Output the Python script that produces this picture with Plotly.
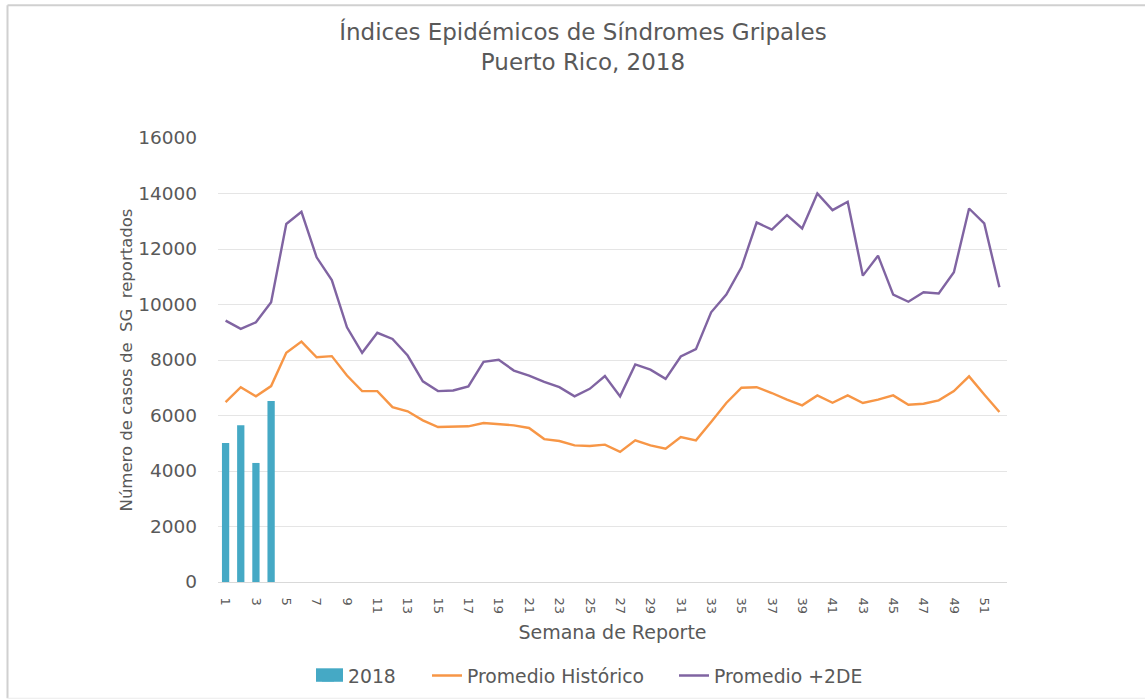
import plotly.graph_objects as go

weeks = list(range(1, 53))
week_labels = [str(w) for w in weeks]
tick_weeks = [str(w) for w in range(1, 53, 2)]

cases_2018 = [5010, 5645, 4290, 6519]

promedio_historico = [
    6480, 7020, 6690, 7060, 8260, 8665, 8100, 8140, 7440, 6880,
    6880, 6300, 6150, 5825, 5585, 5585, 5610, 5730, 5680, 5645,
    5550, 5150, 5080, 4925, 4900, 4950, 4690, 5105, 4925, 4805,
    5225, 5105, 5765, 6450, 7000, 7020, 6810, 6570, 6365, 6725,
    6460, 6725, 6450, 6570, 6725, 6390, 6425, 6545, 6880, 7410,
    6760, 6125,
]

promedio_2de = [
    9420, 9120, 9360, 10080, 12900, 13340, 11700, 10880, 9180, 8260,
    8980, 8760, 8160, 7230, 6880, 6900, 7050, 7935, 8005, 7620,
    7440, 7210, 7020, 6690, 6960, 7420, 6690, 7840, 7650, 7320,
    8125, 8390, 9720, 10355, 11340, 12955, 12700, 13220, 12740, 14000,
    13400, 13700, 11040, 11760, 10355, 10100, 10440, 10400, 11160, 13460,
    12920, 10620,
]

y_ticks = [0, 2000, 4000, 6000, 8000, 10000, 12000, 14000, 16000]

grey = "#595959"
bar_color = "#45A9C5"
font_main = "DejaVu Sans"

W, H = 1145, 707
SY = H / 700.0          # screen-to-figure vertical factor

def fy(screen_y):
    return screen_y * SY

L = 218
R = W - 1007
T = fy(137)
B = H - fy(582)
pw, ph = W - L - R, H - T - B

def px_x(p):
    return (p - L) / pw

def px_y(screen_y):
    return (H - B - fy(screen_y)) / ph

legend_font = dict(family=font_main, size=18.8, color=grey)

def legend_at(text_left):
    return dict(
        orientation="h", x=px_x(text_left - 40), xanchor="left",
        y=px_y(676), yanchor="middle",
        font=legend_font, itemwidth=30, borderwidth=0,
        bgcolor="rgba(0,0,0,0)",
    )

fig = go.Figure()
fig.add_trace(go.Bar(
    x=week_labels[:len(cases_2018)], y=cases_2018, name="2018",
    marker=dict(color=bar_color, line=dict(width=0)),
    legend="legend",
))
fig.add_trace(go.Scatter(
    x=week_labels, y=promedio_historico, name="Promedio Histórico",
    mode="lines", line=dict(color="#F79646", width=2.4),
    legend="legend2",
))
fig.add_trace(go.Scatter(
    x=week_labels, y=promedio_2de, name="Promedio +2DE",
    mode="lines", line=dict(color="#8064A2", width=2.4),
    legend="legend3",
))

fig.update_layout(
    width=W, height=H,
    margin=dict(l=L, r=R, t=T, b=B, pad=0),
    paper_bgcolor="white", plot_bgcolor="white",
    font=dict(family=font_main, color=grey, size=15),
    title=dict(
        text="Índices Epidémicos de Síndromes Gripales<br>Puerto Rico, 2018",
        x=px_x(583), xanchor="center", xref="paper",
        y=1 - fy(40) / H, yanchor="top", yref="container",
        font=dict(family=font_main, size=23, color=grey),
    ),
    bargap=0.52,
    showlegend=True,
    legend=legend_at(348),
    legend2=legend_at(467),
    legend3=legend_at(714),
    xaxis=dict(
        type="category",
        categoryorder="array", categoryarray=week_labels,
        range=[-0.5, 51.5],
        tickmode="array", tickvals=tick_weeks, ticktext=tick_weeks,
        tickangle=90,
        tickfont=dict(family=font_main, size=13, color=grey),
        showgrid=False, showline=True, linecolor="#D9D9D9", linewidth=1,
        ticks="", ticklabelstandoff=12,
        title=dict(text="Semana de Reporte", standoff=12,
                   font=dict(family=font_main, size=19, color=grey)),
    ),
    yaxis=dict(
        range=[0, 16000],
        tickmode="array", tickvals=y_ticks, tickformat="d",
        tickfont=dict(family=font_main, size=18.5, color=grey),
        showgrid=True, gridcolor="#E5E5E5", gridwidth=1,
        zeroline=False, showline=False, ticks="",
        ticklabelstandoff=20,
        title=dict(text="Número de casos de  SG  reportados", standoff=1,
                   font=dict(family=font_main, size=16.5, color=grey)),
    ),
    shapes=[
        # wide legend swatch for the bar series
        dict(type="rect", xref="paper", yref="paper",
             x0=px_x(316), x1=px_x(343), y0=px_y(668.5), y1=px_y(682),
             fillcolor=bar_color, line=dict(width=0)),
        # outer frame of the original picture
        dict(type="line", xref="paper", yref="paper",
             x0=px_x(7.5), x1=px_x(1145), y0=px_y(4), y1=px_y(4),
             line=dict(color="#D0D0D0", width=2)),
        dict(type="line", xref="paper", yref="paper",
             x0=px_x(7.5), x1=px_x(7.5), y0=px_y(4), y1=px_y(698.5),
             line=dict(color="#D0D0D0", width=2)),
        dict(type="line", xref="paper", yref="paper",
             x0=px_x(7.5), x1=px_x(1145), y0=px_y(698.5), y1=px_y(698.5),
             line=dict(color="#EBEBEB", width=1)),
    ],
)

fig.write_html(
    "out.html",
    config={"displayModeBar": False},
    post_script=(
        "document.documentElement.style.margin='0';"
        "document.documentElement.style.overflow='hidden';"
        "document.body.style.margin='0';"
        "document.body.style.overflow='hidden';"
    ),
)
